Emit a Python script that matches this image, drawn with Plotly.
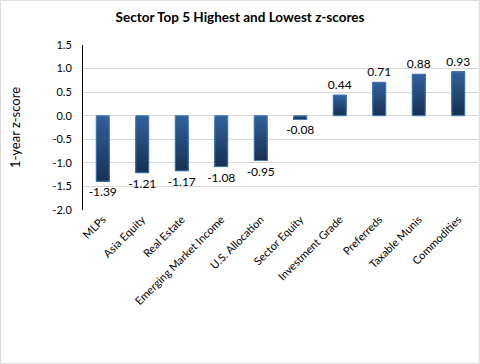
import plotly.graph_objects as go

categories = ["MLPs", "Asia Equity", "Real Estate", "Emerging Market Income",
              "U.S. Allocation", "Sector Equity", "Investment Grade", "Preferreds",
              "Taxable Munis", "Commodities"]
values = [-1.39, -1.21, -1.17, -1.08, -0.95, -0.08, 0.44, 0.71, 0.88, 0.93]
tick_vals = [1.5, 1.0, 0.5, 0.0, -0.5, -1.0, -1.5, -2.0]

FONT = "Lato"
LIGHT = (48, 96, 154)
DARK = (24, 50, 84)
N = 16
W, H = 480, 364
ML, MR, MT, MB = 83, 2, 45, 154


def mix(t):
    return "rgb(%d,%d,%d)" % tuple(round(a + (b - a) * t) for a, b in zip(LIGHT, DARK))


fig = go.Figure()
for k in range(N):
    frac = k / (N - 1)
    colors = [mix(frac) if v < 0 else mix(1 - frac) for v in values]
    fig.add_trace(go.Bar(
        x=categories, y=[v * (1 - k / N) for v in values], base=[v * k / N for v in values],
        marker=dict(color=colors, line=dict(width=0)), width=0.33,
        hoverinfo="skip", showlegend=False))

fig.add_trace(go.Bar(
    x=categories, y=values, width=0.33,
    marker=dict(color="rgba(0,0,0,0)", line=dict(color="#4a7ebb", width=1)),
    text=values, texttemplate="%{y:.2f}", textposition="outside",
    constraintext="none",
    textfont=dict(family=FONT, size=12, color="#000000"),
    cliponaxis=False, showlegend=False))

fig.update_layout(
    width=W, height=H, barmode="overlay",
    margin=dict(l=ML, r=MR, t=MT, b=MB),
    paper_bgcolor="white", plot_bgcolor="white",
    font=dict(family=FONT, size=11, color="#000000"),
    title=dict(text="<b>Sector Top 5 Highest and Lowest z-scores</b>",
               x=0.5, xref="container", y=0.953, yanchor="middle",
               font=dict(family=FONT, size=13.5, color="#000000")),
    xaxis=dict(tickangle=-45, showgrid=False, showline=False, ticks="",
               automargin=False, ticklabelstandoff=0,
               tickfont=dict(family=FONT, size=11)),
    yaxis=dict(range=[-2.0, 1.5], tickvals=tick_vals,
               ticktext=[f"{v:.1f}" for v in tick_vals],
               showgrid=True, gridcolor="#d9d9d9", gridwidth=1,
               zeroline=False, showline=True, linecolor="#000000", linewidth=1,
               ticks="", ticklen=0, automargin=False, ticklabelstandoff=8,
               title=dict(text="1-year z-score", font=dict(family=FONT, size=13), standoff=28),
               tickfont=dict(family=FONT, size=11)),
    shapes=[dict(type="rect", xref="paper", yref="paper",
                 x0=-ML / (W - ML - MR) + 0.001, x1=1 + MR / (W - ML - MR) - 0.002,
                 y0=-MB / (H - MT - MB) + 0.002, y1=1 + MT / (H - MT - MB) - 0.002,
                 line=dict(color="#d9d9d9", width=1), layer="below")],
)

fig.write_html("out.html", config={"displayModeBar": False},
               post_script="document.body.style.margin='0';")
